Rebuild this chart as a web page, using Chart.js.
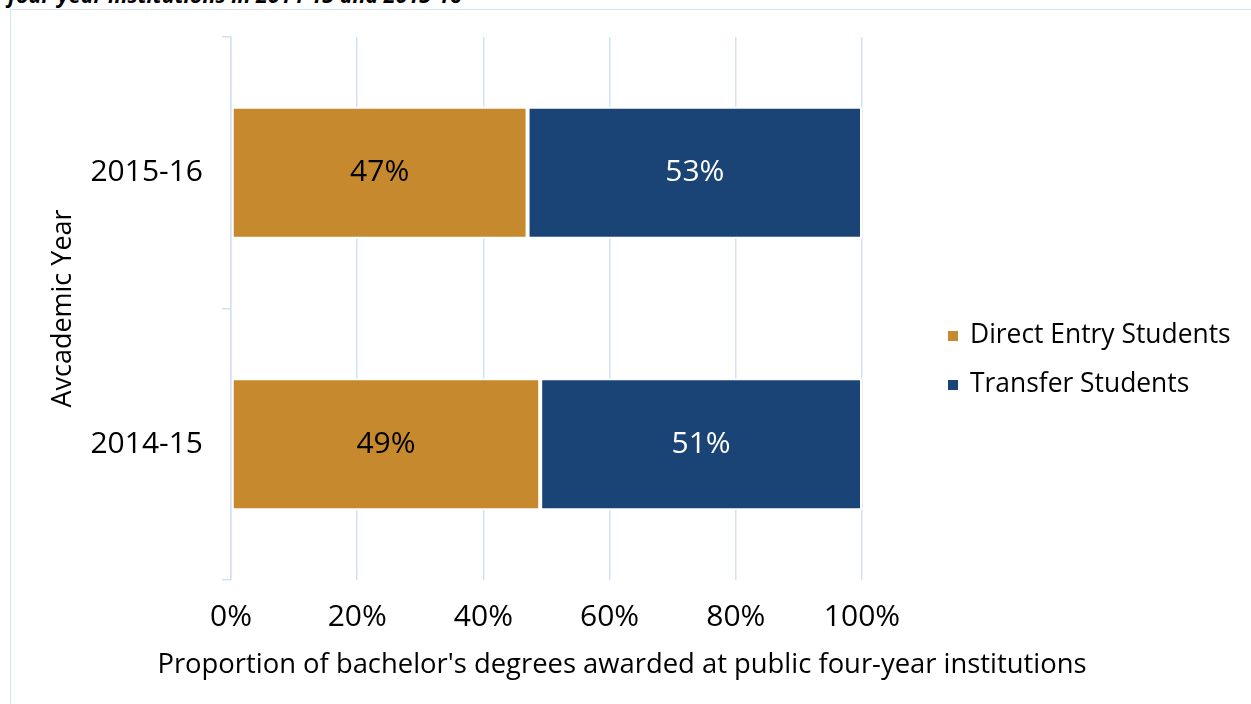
<!DOCTYPE html>
<html lang="en">
<head>
  <meta charset="UTF-8">
  <title>Bachelor's degrees by entry type</title>
  <style>
    body { margin: 0; width: 1251px; height: 704px; overflow: hidden; background: #fff; position: relative; }
    .heading { position: absolute; left: 8px; top: -20px; font: italic bold 21.5px 'Open Sans', sans-serif; white-space: nowrap; color: #000; }
    .frame { position: absolute; left: 10px; top: 9px; width: 1300px; height: 760px; border: 1px solid #d3e1f4; }
    .wrap { position: absolute; left: 0; top: 0; }
  </style>
</head>
<body>
<div class="heading">four-year institutions in 2014-15 and 2015-16</div>
<div class="frame"></div>
<div class="wrap"><canvas id="barChart" width="1251" height="704"></canvas></div>
<script src="https://cdn.jsdelivr.net/npm/chart.js"></script>
<script>
  const years = ['2015-16', '2014-15'];
  const directEntry = [47, 49];
  const transfer = [53, 51];
  const xTicks = [0, 20, 40, 60, 80, 100];
  const xTitle = "Proportion of bachelor's degrees awarded at public four-year institutions";

  const FONT = "'Open Sans', sans-serif";
  const GRID = '#d3e1f4';

  // value labels in the middle of each bar segment
  const barLabels = {
    id: 'barLabels',
    afterDatasetsDraw(chart) {
      const ctx = chart.ctx;
      ctx.save();
      ctx.font = '30px ' + FONT;
      ctx.textAlign = 'center';
      ctx.textBaseline = 'middle';
      chart.data.datasets.forEach((ds, i) => {
        chart.getDatasetMeta(i).data.forEach((bar, j) => {
          const p = bar.getProps(['x', 'y', 'base'], true);
          ctx.fillStyle = ds.labelColor;
          ctx.fillText(ds.data[j] + '%', (p.x + p.base) / 2, p.y);
        });
      });
      ctx.restore();
    }
  };

  // legend on the right and the long x axis title (drawn here so it isn't squeezed to the plot width)
  const extras = {
    id: 'extras',
    afterDraw(chart) {
      const ctx = chart.ctx;
      const left = chart.chartArea.right + 86;
      ctx.save();
      ctx.font = '26.4px ' + FONT;
      ctx.textAlign = 'left';
      ctx.textBaseline = 'middle';
      chart.data.datasets.forEach((ds, i) => {
        const y = 336 + i * 49;
        ctx.fillStyle = ds.backgroundColor;
        ctx.fillRect(left, y - 5, 10, 10);
        ctx.fillStyle = '#000';
        ctx.fillText(ds.label, left + 22, y - 1);
      });
      ctx.font = '27.4px ' + FONT;
      ctx.textAlign = 'center';
      ctx.fillText(xTitle, 622, 665);
      ctx.restore();
    }
  };

  const ctx = document.getElementById('barChart').getContext('2d');
  new Chart(ctx, {
    type: 'bar',
    data: {
      labels: years,
      datasets: [{
        label: 'Direct Entry Students',
        data: directEntry,
        backgroundColor: '#c6892d',
        labelColor: '#000',
        borderColor: '#fff',
        borderWidth: 2,
        borderSkipped: false
      }, {
        label: 'Transfer Students',
        data: transfer,
        backgroundColor: '#1a4476',
        labelColor: '#fff',
        borderColor: '#fff',
        borderWidth: 2,
        borderSkipped: false
      }]
    },
    options: {
      indexAxis: 'y',
      responsive: false,
      animation: false,
      barPercentage: 0.486,
      categoryPercentage: 1,
      layout: { padding: { top: 37, right: 389, bottom: 0, left: 0 } },
      plugins: {
        legend: { display: false },
        tooltip: { enabled: false }
      },
      scales: {
        x: {
          stacked: true,
          min: 0,
          max: 100,
          afterBuildTicks: (scale) => { scale.ticks = xTicks.map(v => ({ value: v })); },
          afterFit: (scale) => { scale.height = 124; },
          grid: { color: GRID, lineWidth: 1.5, drawTicks: false },
          border: { display: false },
          ticks: {
            color: '#000',
            padding: 19,
            font: { family: FONT, size: 30 },
            callback: (v) => v + '%'
          }
        },
        y: {
          stacked: true,
          afterFit: (scale) => { scale.width = 231; },
          grid: { drawOnChartArea: false, color: GRID, lineWidth: 1.5, tickLength: 9 },
          border: { display: true, color: GRID, width: 1.5 },
          ticks: {
            color: '#000',
            padding: 19,
            font: { family: FONT, size: 30 }
          },
          title: {
            display: true,
            text: 'Avcademic Year',
            color: '#000',
            font: { family: FONT, size: 27 },
            padding: { top: 47, bottom: 0 }
          }
        }
      }
    },
    plugins: [barLabels, extras]
  });
</script>
</body>
</html>
